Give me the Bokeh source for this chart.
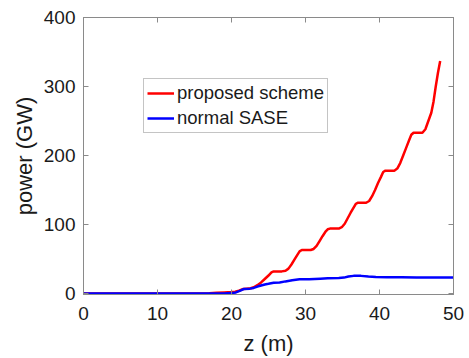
from bokeh.plotting import figure
from bokeh.models import Range1d, LinearAxis, Legend, LegendItem, FixedTicker
from bokeh.embed import file_html
from bokeh.resources import INLINE

# proposed scheme (red)
z_prop = [0, 15, 17, 18, 19, 20, 20.5, 21, 21.6, 22, 22.6, 23, 23.5, 24, 24.5, 25, 25.4, 25.7,
          26.8, 27.3, 27.7, 28.1, 28.5, 28.9, 29.2, 29.5,
          30.7, 31.1, 31.5, 31.9, 32.3, 32.7, 33.0, 33.3,
          34.5, 34.9, 35.3, 35.7, 36.1, 36.5, 36.8, 37.1,
          38.2, 38.6, 39.0, 39.4, 39.8, 40.2, 40.5, 40.8,
          42.0, 42.4, 42.8, 43.2, 43.6, 44.0, 44.3, 44.6,
          45.8, 46.2, 46.6, 47.0, 47.3, 47.6, 47.9, 48.2]
p_prop = [0, 0, 0.3, 1, 1.5, 2, 2.5, 4, 6.5, 7, 7.5, 9, 12, 16, 21, 26, 30.5, 32,
          32, 33, 36, 42, 49, 56, 61, 63,
          63, 64.5, 69, 76, 83, 89.5, 93, 94,
          94, 96, 101, 109, 117, 124.5, 130, 131.5,
          131.5, 134, 141, 150, 160, 169, 176, 178,
          178, 181, 189, 200, 211, 222, 230, 233,
          233, 238, 250, 262, 278, 300, 320, 337]

# normal SASE (blue)
z_sase = [0, 19, 20, 20.6, 21.2, 21.7, 22.5, 23, 23.5, 24, 24.5, 25, 25.7, 26.5, 27.3, 28.2,
          29.2, 30.5, 32, 33, 34.5, 35.2, 35.8, 36.5, 37.5, 38.5, 39.5, 41, 43, 45, 47, 50]
p_sase = [0, 0, 0.5, 1.5, 4, 6.5, 7, 8, 10, 11.5, 13, 14, 15.5, 16, 17.5, 19,
          20.5, 20.5, 21.5, 22, 22.5, 23, 24.5, 25.5, 25.5, 24.5, 24, 23.5, 23.5, 23, 23, 23]

x_ticks = [0, 10, 20, 30, 40, 50]
y_ticks = [0, 100, 200, 300, 400]

FONT = "Liberation Sans"
FRAME = "#8a8a8a"
TEXT = "#1a1a1a"

p = figure(width=469, height=358, output_backend="svg", toolbar_location=None,
           x_range=Range1d(0, 50), y_range=Range1d(-1.5, 400),
           min_border_left=83, min_border_right=16, min_border_top=17, min_border_bottom=62)
p.grid.visible = False
p.outline_line_color = FRAME
p.background_fill_color = "white"
p.border_fill_color = "white"

r1 = p.line(z_prop, p_prop, line_color="#ff0000", line_width=2.5)
r2 = p.line(z_sase, p_sase, line_color="#0000ff", line_width=2.5)

for ax, ticks in ((p.xaxis[0], x_ticks), (p.yaxis[0], y_ticks)):
    ax.ticker = FixedTicker(ticks=ticks)
    ax.axis_line_color = FRAME
    ax.major_tick_line_color = FRAME
    ax.major_tick_in = 5
    ax.major_tick_out = 0
    ax.minor_tick_line_color = None
    ax.major_label_text_font = FONT
    ax.major_label_text_font_size = "19px"
    ax.major_label_text_color = TEXT
    ax.axis_label_text_font = FONT
    ax.axis_label_text_font_size = "22px"
    ax.axis_label_text_font_style = "normal"
    ax.axis_label_text_color = TEXT

p.xaxis[0].axis_label = "z (m)"
p.xaxis[0].major_label_standoff = 12
p.xaxis[0].axis_label_standoff = 8
p.yaxis[0].axis_label = "power (GW)"
p.yaxis[0].major_label_standoff = 8
p.yaxis[0].axis_label_standoff = 4

# mirrored tick marks on the top and right edges (no labels)
for loc, ticks in (("above", x_ticks), ("right", y_ticks)):
    ax = LinearAxis(ticker=FixedTicker(ticks=[], minor_ticks=ticks))
    ax.axis_line_color = FRAME
    ax.major_tick_line_color = None
    ax.minor_tick_line_color = FRAME
    ax.minor_tick_in = 5
    ax.minor_tick_out = 0
    ax.major_label_standoff = 0
    p.add_layout(ax, loc)

legend = Legend(items=[LegendItem(label="proposed scheme", renderers=[r1]),
                       LegendItem(label="normal SASE", renderers=[r2])],
                location=(60, 161))
legend.label_text_font = FONT
legend.label_text_font_size = "18.5px"
legend.label_text_color = TEXT
legend.label_height = 22
legend.glyph_height = 22
legend.glyph_width = 27
legend.label_standoff = 3
legend.spacing = 3
legend.padding = 3
legend.margin = 0
legend.border_line_color = FRAME
legend.border_line_width = 1
legend.background_fill_alpha = 1
p.add_layout(legend, "center")

open("out.html", "w").write(file_html(p, INLINE))
